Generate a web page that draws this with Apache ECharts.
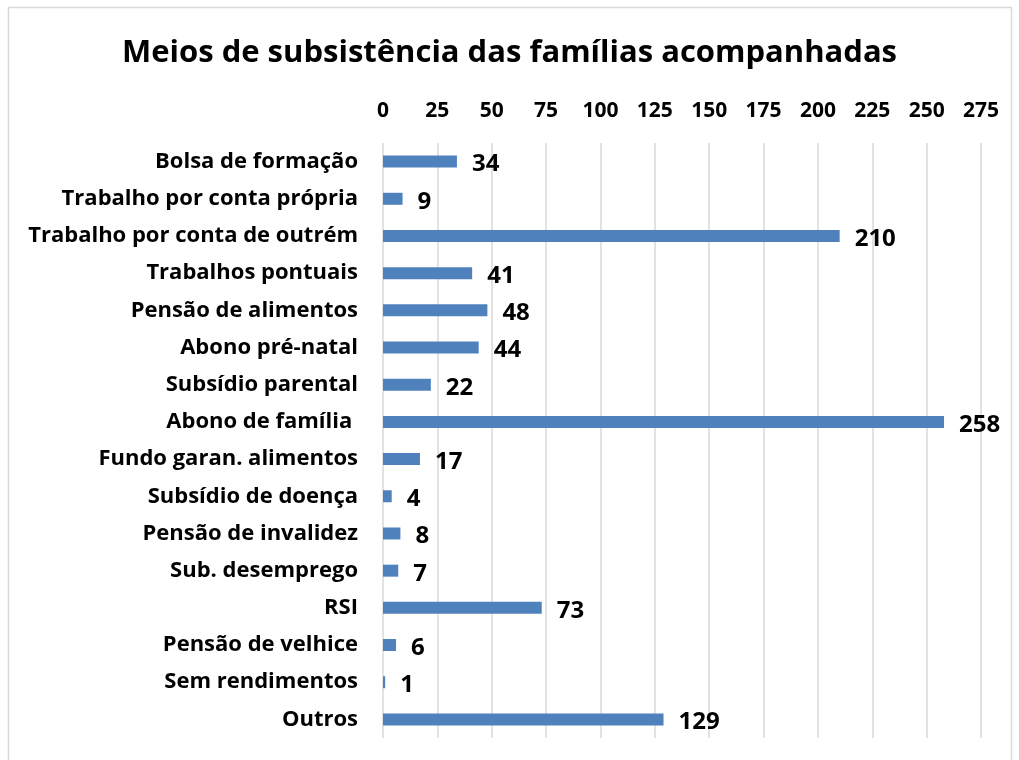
<!DOCTYPE html>
<html>
<head>
<meta charset="utf-8">
<script src="https://cdn.jsdelivr.net/npm/echarts@6/dist/echarts.min.js"></script>
<style>
html,body{margin:0;padding:0;background:#fff;}
#c{width:1019px;height:760px;}
</style>
</head>
<body>
<div id="c"></div>
<script>
const categories = [
  "Bolsa de formação",
  "Trabalho por conta própria",
  "Trabalho por conta de outrém",
  "Trabalhos pontuais",
  "Pensão de alimentos",
  "Abono pré-natal",
  "Subsídio parental",
  "Abono de família ",
  "Fundo garan. alimentos",
  "Subsídio de doença",
  "Pensão de invalidez",
  "Sub. desemprego",
  "RSI",
  "Pensão de velhice",
  "Sem rendimentos",
  "Outros"
];
const values = [34, 9, 210, 41, 48, 44, 22, 258, 17, 4, 8, 7, 73, 6, 1, 129];
const titleText = "Meios de subsistência das famílias acompanhadas";

const FONT = "Open Sans";
const chart = echarts.init(document.getElementById('c'), null, {renderer: 'canvas'});
chart.setOption({
  backgroundColor: '#ffffff',
  animation: false,
  graphic: [{
    type: 'rect',
    shape: {x: 8.5, y: 7.5, width: 1003, height: 770},
    style: {fill: 'none', stroke: '#d9d9d9', lineWidth: 1.5},
    silent: true
  }],
  title: {
    text: titleText,
    left: 'center',
    top: 33,
    textStyle: {fontFamily: FONT, fontWeight: 'bold', fontSize: 31, color: '#000'}
  },
  grid: {left: 383, right: 38, top: 143, bottom: 22, containLabel: false},
  xAxis: {
    type: 'value',
    position: 'top',
    min: 0, max: 275, interval: 25,
    axisLine: {show: false},
    axisTick: {show: false},
    axisLabel: {fontFamily: FONT, fontWeight: 'bold', fontSize: 21, color: '#000', margin: 21},
    splitLine: {show: true, lineStyle: {color: '#d9d9d9', width: 1.5}}
  },
  yAxis: {
    type: 'category',
    data: categories,
    inverse: true,
    axisLine: {show: false},
    axisTick: {show: false},
    axisLabel: {fontFamily: FONT, fontWeight: 'bold', fontSize: 22, color: '#000', margin: 25}
  },
  series: [{
    type: 'bar',
    data: values,
    barWidth: 12,
    itemStyle: {color: '#4f81bd'},
    label: {
      show: true,
      position: 'right',
      distance: 15,
      fontFamily: FONT, fontWeight: 'bold', fontSize: 24, color: '#000',
      offset: [0, 3]
    }
  }]
});
</script>
</body>
</html>
